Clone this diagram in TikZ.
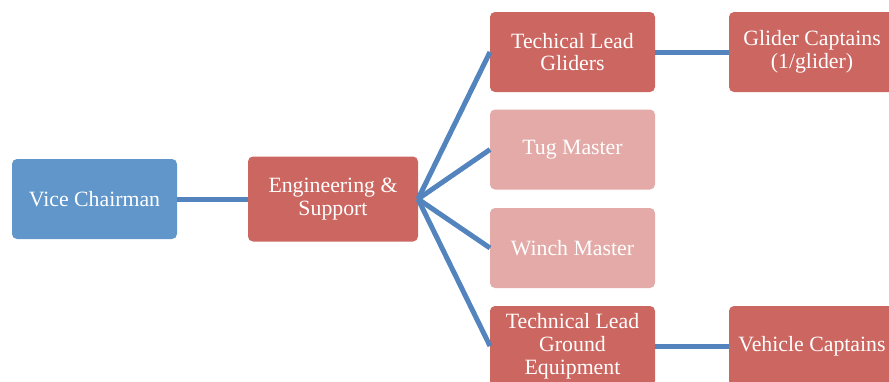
\documentclass[tikz,border=0pt]{standalone}
\usepackage{fontspec}
\setmainfont{Liberation Serif}
\usepackage{tikz}

\definecolor{boxblue}{RGB}{96,150,202}
\definecolor{boxred}{RGB}{204,102,96}
\definecolor{boxpale}{RGB}{227,170,168}
\definecolor{linkblue}{RGB}{84,132,189}

\tikzset{
  unit/.style={rectangle, rounded corners=5pt, draw=none, text=white,
    minimum width=165pt, minimum height=80pt, inner sep=0pt, outer sep=0pt,
    align=center, font=\fontsize{21.8}{22.8}\selectfont},
  chief/.style={unit, fill=boxblue},
  lead/.style={unit, fill=boxred},
  minor/.style={unit, fill=boxpale},
  link/.style={draw=linkblue, line width=5pt}
}

\begin{document}
\begin{tikzpicture}[x=1pt, y=-1pt]
            \useasboundingbox (0,0) rectangle (889,381);
            \clip (0,0) rectangle (889,381);

            \node[chief] (vice) at (94.5,199) {Vice Chairman};
            \node[lead, minimum width=170pt, minimum height=85pt] (eng) at (333,199) {Engineering \&\\Support};
            \node[lead] (gliders) at (572.5,52) {Techical Lead\\Gliders};
            \node[minor] (tug) at (572.5,149.5) {Tug Master};
            \node[minor] (winch) at (572.5,248) {Winch Master};
            \node[lead] (ground) at (572.5,346) {Technical Lead\\Ground\\Equipment};
            \node[lead, minimum width=166pt] (captains) at (812,52) {Glider Captains\\(1/glider)};
            \node[lead, minimum width=166pt] (vehicles) at (812,346) {Vehicle Captains};

            \draw[link] (vice) -- (eng);
            \draw[link] (eng.east) -- (gliders.west);
            \draw[link] (eng.east) -- (tug.west);
            \draw[link] (eng.east) -- (winch.west);
            \draw[link] (eng.east) -- (ground.west);
            \draw[link] (gliders) -- (captains);
            \draw[link] (ground) -- (vehicles);
        \end{tikzpicture}
\end{document}
